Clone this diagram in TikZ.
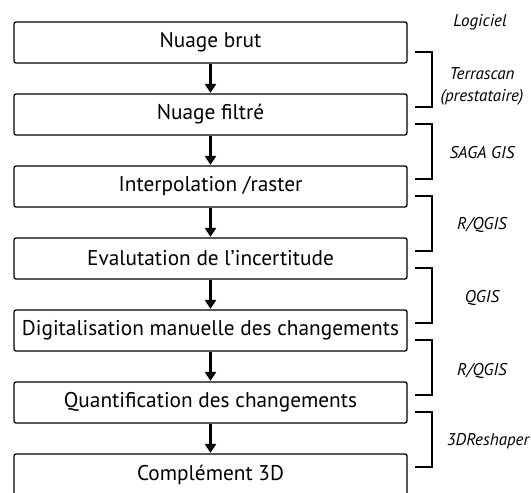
\documentclass[tikz,border=0pt]{standalone}
\usepackage{fontspec}
\setmainfont{PT Sans}
\usetikzlibrary{arrows.meta}
\begin{document}
\begin{tikzpicture}[x=1pt,y=-1pt,
  stepbox/.style={draw, line width=1.3pt, rounded corners=2pt, minimum width=393pt, minimum height=41pt, inner sep=0pt, font=\fontsize{21.3}{25}\selectfont},
  flow/.style={line width=3.5pt, -{Triangle[length=9pt,width=11pt]}, shorten >=0.5pt},
  brk/.style={line width=1.2pt},
  lab/.style={font=\fontsize{17}{22}\selectfont\itshape, align=center}]
\useasboundingbox (0,0) rectangle (531,493);
\node[stepbox] (b1) at (210.5,42.5) {Nuage brut};
\node[stepbox] (b2) at (210.5,114.5) {Nuage filtré};
\node[stepbox] (b3) at (210.5,186.5) {Interpolation /raster};
\node[stepbox] (b4) at (210.5,258.5) {Evalutation de l’incertitude};
\node[stepbox] (b5) at (210.5,330.5) {Digitalisation manuelle des changements};
\node[stepbox] (b6) at (210.5,402.5) {Quantification des changements};
\node[stepbox] (b7) at (210.5,474.5) {Complément 3D};
\foreach \a/\b in {b1/b2,b2/b3,b3/b4,b4/b5,b5/b6,b6/b7}
  \draw[flow] (\a.south) -- (\b.north);
\foreach \k in {0,...,5}{
  \draw[brk] (415,{52+72*\k}) -- (432,{52+72*\k}) -- (432,{107+72*\k}) -- (415,{107+72*\k});
}
\node[lab] (l0) at (480,22) {Logiciel};
\node[lab] (l1) at (482,86) {Terrascan\\(prestataire)};
\node[lab] (l2) at (482,153) {SAGA GIS};
\node[lab] (l3) at (482,225) {R/QGIS};
\node[lab] (l4) at (482,298) {QGIS};
\node[lab] (l5) at (482,371) {R/QGIS};
\node[lab] (l6) at (488,441) {3DReshaper};
\end{tikzpicture}
\end{document}
